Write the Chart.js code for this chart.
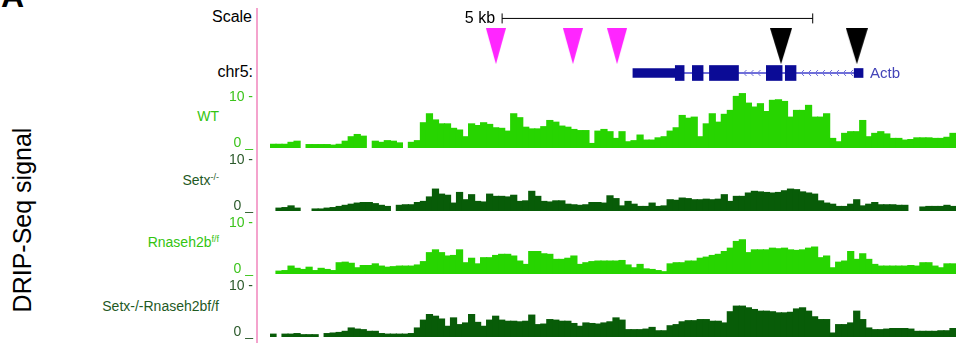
<!DOCTYPE html>
<html lang="en">
<head>
  <meta charset="UTF-8" />
  <title>DRIP-Seq signal over Actb</title>
  <script src="https://cdn.jsdelivr.net/npm/chart.js@4.4.1/dist/chart.umd.min.js"></script>
  <style>
    html, body { margin: 0; padding: 0; background: #fff; }
    body {
      width: 956px; height: 343px; position: relative; overflow: hidden;
      font-family: "Liberation Sans", Arial, sans-serif;
    }
    .txt { position: absolute; white-space: nowrap; line-height: 1; }
    .name { font-size: 14px; text-align: right; right: 737px; }
    .name sup { font-size: 9px; vertical-align: 5px; }
    .light { color: #33c410; }
    .dark { color: #1f5a1f; }
    canvas { position: absolute; }
    #pinkLine { position: absolute; left: 256px; top: 8px; width: 2px; height: 335px; background: #f4a3cd; }
    #yTitle {
      position: absolute; left: 22px; top: 220px; font-size: 25px; color: #000;
      transform: translate(-50%, -50%) rotate(-90deg); white-space: nowrap; line-height: 1;
    }
  </style>
</head>
<body>

  <div class="txt" style="left:1px; top:-20px; font-size:32px; font-weight:bold;">A</div>
  <div id="yTitle">DRIP-Seq signal</div>

  <div class="txt" style="right:704px; top:9px; font-size:16px;">Scale</div>
  <div class="txt" style="right:703px; top:64px; font-size:16px;">chr5:</div>

  <div class="txt name light" style="top:109px;">WT</div>
  <div class="txt name dark" style="top:173px;">Setx<sup>-/-</sup></div>
  <div class="txt name light" style="top:235px;">Rnaseh2b<sup>f/f</sup></div>
  <div class="txt name dark" style="top:299px;">Setx-/-Rnaseh2bf/f</div>

  <div id="pinkLine"></div>

  <canvas id="topChart" width="686" height="70" style="left:270px; top:0px;"></canvas>
  <canvas id="geneChart" width="686" height="30" style="left:270px; top:58px;"></canvas>
  <canvas id="trackWT" width="776" height="72" style="left:180px; top:84px;"></canvas>
  <canvas id="trackSetx" width="776" height="72" style="left:180px; top:147px;"></canvas>
  <canvas id="trackRnaseh" width="776" height="72" style="left:180px; top:210px;"></canvas>
  <canvas id="trackDouble" width="776" height="72" style="left:180px; top:273px;"></canvas>

  <script>
    // window shown, in kb from the left edge of the tracks
    const VIEW_KB = 10.85;
    const scaleBarKb = [3.64, 8.64];          // 5 kb bar
    const magentaSitesKb = [3.54, 4.78, 5.49];
    const blackSitesKb = [8.13, 9.35];

    // Actb gene model (minus strand), kb
    const actbUtr = [[5.74, 6.41]];
    const actbExons = [[6.41, 6.55], [6.68, 6.85], [6.95, 7.41], [7.85, 8.10], [8.15, 8.32]];
    const actbFirstExon = [[9.24, 9.38]];
    const actbIntron = [6.41, 9.24];

    // y axis ticks of every signal track
    const yTicks = [0, 10];
    const yTickLabels = ['0 _', '10 -'];

    // DRIP-seq signal, equal bins across the window (null = no data)
    const wtSignal = [
      0.65,0.65,0.65,1.0,1.2,null,0.6,0.6,0.6,0.6,
      0.5,0.65,1.2,2.0,2.4,2.1,null,1.2,1.0,1.3,
      1.2,0.9,null,1.0,1.3,4.5,6.1,5.0,4.3,4.3,
      3.5,3.2,2.0,4.3,4.0,4.5,4.2,3.6,3.5,3.0,
      6.1,5.4,3.7,3.4,3.4,3.8,4.9,4.6,3.9,3.7,
      3.3,3.1,3.1,0.8,3.0,3.3,2.9,1.7,2.9,1.1,
      1.3,2.3,1.4,1.4,1.8,2.0,3.0,3.6,5.8,5.3,
      5.5,2.0,4.3,6.1,4.6,6.0,6.7,9.2,9.7,8.0,
      7.3,7.9,6.5,8.5,8.6,8.3,5.5,6.7,6.7,7.6,
      5.5,5.5,6.1,1.7,1.1,2.6,2.9,2.9,4.9,2.0,
      2.6,2.9,2.5,1.7,1.7,1.4,1.5,1.8,1.8,1.8,
      1.7,1.7,1.9,2.6
    ];
    const setxSignal = [
      null,0.5,0.6,0.9,0.5,null,null,0.35,0.35,0.5,
      0.6,0.8,1.0,1.2,1.4,1.5,1.5,1.3,1.0,0.8,
      null,1.0,1.1,1.1,1.5,1.7,2.5,3.9,3.0,2.8,
      1.4,3.3,2.0,2.9,1.7,1.6,3.0,2.6,2.6,2.5,
      2.8,1.7,1.8,3.5,2.6,1.7,1.6,1.8,1.8,1.2,
      1.1,1.0,1.1,1.5,1.5,1.4,2.7,2.2,0.9,1.7,
      1.2,0.8,0.8,1.4,0.8,0.9,2.0,1.9,2.3,2.2,
      2.0,2.0,2.1,2.0,2.1,2.9,1.7,2.6,2.6,3.2,
      3.5,3.4,3.3,3.2,3.3,3.6,3.9,3.8,3.4,3.2,
      3.0,1.8,1.4,1.2,0.8,0.8,1.2,2.0,0.9,1.2,
      1.5,1.1,1.1,1.1,1.0,1.0,null,null,0.7,0.8,
      0.8,0.8,1.0,0.8
    ];
    const rnasehSignal = [
      null,0.5,0.6,1.4,1.0,0.8,1.2,0.6,1.0,0.8,
      0.6,2.0,2.1,1.9,1.1,1.5,1.5,1.8,1.4,1.2,
      1.3,1.4,1.4,1.4,1.6,2.2,3.8,4.3,3.8,3.2,
      3.3,4.3,2.0,2.8,1.8,2.9,2.9,3.3,3.5,3.5,
      3.2,2.3,1.7,4.0,4.0,3.6,3.5,2.6,2.6,2.8,
      3.2,1.7,2.0,2.2,2.3,2.3,2.3,2.3,2.4,1.6,
      1.1,1.7,0.9,0.8,0.6,0.4,1.8,2.0,2.0,2.3,
      2.3,2.8,3.0,3.3,3.5,4.0,4.6,5.8,6.1,3.8,
      4.3,4.3,4.3,4.6,4.5,4.6,4.3,4.2,4.3,4.6,
      4.8,2.9,3.2,1.1,2.1,2.3,4.0,2.6,3.6,2.6,
      1.7,1.4,1.4,1.4,1.4,1.4,1.5,1.4,2.0,2.0,
      1.4,1.1,1.8,1.8
    ];
    const doubleSignal = [
      0.5,null,0.5,0.5,0.6,0.4,0.4,0.4,null,0.6,
      0.7,0.8,1.0,1.6,1.4,1.3,1.0,1.0,0.6,0.5,
      0.5,0.5,0.5,0.6,1.6,3.0,4.0,3.7,3.2,1.9,
      3.4,2.2,2.5,4.0,2.6,1.9,3.0,3.7,3.0,2.8,
      2.8,2.7,2.8,3.9,2.2,2.3,3.1,3.0,2.8,2.8,
      2.4,1.9,2.5,2.4,2.3,2.5,2.7,3.4,3.0,1.3,
      1.3,1.3,1.4,1.7,1.1,1.1,2.0,2.2,2.7,2.9,
      2.9,3.1,3.1,2.8,2.8,2.5,4.5,5.5,5.5,5.2,
      4.9,4.6,4.6,4.5,4.3,4.3,4.4,5.0,5.2,4.6,
      3.6,3.1,3.1,0.7,2.2,2.2,2.5,4.6,3.1,1.6,
      1.3,1.3,1.4,1.5,1.5,1.5,1.4,1.0,1.0,1.0,
      1.0,1.1,1.1,1.5
    ];

    const FONT = '"Liberation Sans", Arial, sans-serif';
    const LIGHT = '#27d400';
    const DARK = '#085c08';

    function triangleImage(w, h, color) {
      const c = document.createElement('canvas');
      c.width = w; c.height = h;
      const g = c.getContext('2d');
      g.fillStyle = color;
      g.beginPath();
      g.moveTo(0, 0); g.lineTo(w, 0); g.lineTo(w / 2, h); g.closePath();
      g.fill();
      return c;
    }

    const baseOpts = {
      animation: false,
      responsive: false,
      events: [],
      plugins: { legend: { display: false }, tooltip: { enabled: false } }
    };

    // scale bar + site markers
    const scaleLabel = {
      id: 'scaleLabel',
      afterDraw(chart) {
        const { ctx, scales: { x, y } } = chart;
        ctx.save();
        ctx.font = '16px ' + FONT;
        ctx.fillStyle = '#000';
        ctx.textAlign = 'right';
        ctx.textBaseline = 'middle';
        ctx.fillText('5 kb', x.getPixelForValue(scaleBarKb[0]) - 7, y.getPixelForValue(15));
        ctx.restore();
      }
    };

    new Chart(document.getElementById('topChart'), {
      type: 'scatter',
      data: {
        datasets: [
          {
            data: scaleBarKb.map(k => ({ x: k, y: 15 })),
            showLine: true, borderColor: '#000', borderWidth: 1,
            pointStyle: 'line', rotation: 90, radius: 5,
            pointBorderColor: '#000', pointBorderWidth: 1
          },
          {
            data: magentaSitesKb.map(k => ({ x: k, y: 48.5 })),
            pointStyle: triangleImage(20, 36, '#ff26ff')
          },
          {
            data: blackSitesKb.map(k => ({ x: k, y: 48.5 })),
            pointStyle: triangleImage(22, 36, '#000000')
          }
        ]
      },
      options: {
        ...baseOpts,
        layout: { padding: 0 },
        scales: {
          x: { type: 'linear', display: false, min: 0, max: VIEW_KB },
          y: { type: 'linear', display: false, min: 0, max: 70, reverse: true }
        }
      },
      plugins: [scaleLabel]
    });

    // gene model
    const geneDecor = {
      id: 'geneDecor',
      beforeDatasetsDraw(chart) {
        const { ctx, scales: { x, y } } = chart;
        const cy = y.getPixelForValue(0);
        const blocks = actbExons.concat(actbFirstExon);
        ctx.save();
        ctx.strokeStyle = '#6f6fd9';
        ctx.lineWidth = 1;
        for (let i = 0; i < blocks.length - 1; i++) {
          const a = x.getPixelForValue(blocks[i][1]) + 5;
          const b = x.getPixelForValue(blocks[i + 1][0]) - 4;
          for (let px = a; px <= b; px += 7) {
            ctx.beginPath();
            ctx.moveTo(px + 3, cy - 3);
            ctx.lineTo(px, cy);
            ctx.lineTo(px + 3, cy + 3);
            ctx.stroke();
          }
        }
        ctx.restore();
      },
      afterDraw(chart) {
        const { ctx, scales: { x, y } } = chart;
        ctx.save();
        ctx.font = '15px ' + FONT;
        ctx.fillStyle = '#4444b8';
        ctx.textBaseline = 'middle';
        ctx.fillText('Actb', x.getPixelForValue(actbFirstExon[0][1]) + 7, y.getPixelForValue(0) + 1);
        ctx.restore();
      }
    };

    const geneRows = arr => arr.map(r => ({ x: r, y: 'Actb' }));
    new Chart(document.getElementById('geneChart'), {
      type: 'bar',
      data: {
        labels: ['Actb'],
        datasets: [
          { data: geneRows(actbExons), barThickness: 15, backgroundColor: '#0b0b96', order: 1 },
          { data: geneRows(actbFirstExon), barThickness: 9, backgroundColor: '#0b0b96', order: 1 },
          { data: geneRows(actbUtr), barThickness: 9, backgroundColor: '#0b0b96', order: 1 },
          { data: geneRows([actbIntron]), barThickness: 1.5, backgroundColor: '#6f6fd9', order: 3 }
        ]
      },
      options: {
        ...baseOpts,
        indexAxis: 'y',
        layout: { padding: 0 },
        datasets: { bar: { grouped: false, borderWidth: 0 } },
        scales: {
          x: { type: 'linear', display: false, min: 0, max: VIEW_KB },
          y: { display: false }
        }
      },
      plugins: [geneDecor]
    });

    // signal tracks
    const trackTicks = {
      id: 'trackTicks',
      afterDraw(chart, args, opts) {
        const { ctx, chartArea, scales: { y } } = chart;
        ctx.save();
        ctx.font = '14px ' + FONT;
        ctx.fillStyle = opts.color;
        ctx.textAlign = 'right';
        ctx.textBaseline = 'middle';
        ctx.fillText(yTickLabels[1], chartArea.left - 17, y.getPixelForValue(yTicks[1]) + 5);
        ctx.fillText(yTickLabels[0], chartArea.left - 17, y.getPixelForValue(yTicks[0]) - 5);
        ctx.restore();
      }
    };

    function drawTrack(id, values, color, tickColor) {
      new Chart(document.getElementById(id), {
        type: 'bar',
        data: {
          labels: values.map((_, i) => i),
          datasets: [{
            data: values,
            backgroundColor: color,
            borderWidth: 0,
            barPercentage: 1,
            categoryPercentage: 1,
            inflateAmount: 0.6
          }]
        },
        options: {
          ...baseOpts,
          layout: { padding: { left: 90, top: 8, bottom: 8, right: 0 } },
          scales: {
            x: { display: false },
            y: { display: false, min: yTicks[0], max: yTicks[1] }
          },
          plugins: { ...baseOpts.plugins, trackTicks: { color: tickColor } }
        },
        plugins: [trackTicks]
      });
    }

    drawTrack('trackWT', wtSignal, LIGHT, '#3cc41c');
    drawTrack('trackSetx', setxSignal, DARK, '#2b5a2b');
    drawTrack('trackRnaseh', rnasehSignal, LIGHT, '#3cc41c');
    drawTrack('trackDouble', doubleSignal, DARK, '#2b5a2b');
  </script>
</body>
</html>
